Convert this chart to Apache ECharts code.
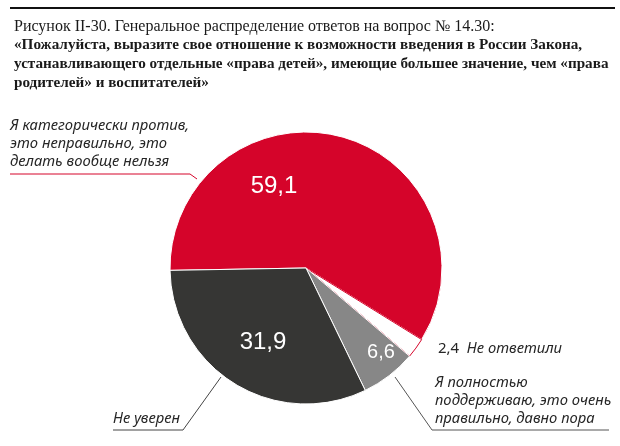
<!DOCTYPE html>
<html>
<head>
<meta charset="utf-8">
<script src="https://cdn.jsdelivr.net/npm/echarts@6/dist/echarts.min.js"></script>
<style>
  html, body { margin: 0; padding: 0; background: #fff; }
  #main { width: 620px; height: 446px; }
</style>
</head>
<body>
<div id="main"></div>
<script>
// ответы и их доли, %
const categories = [
  'Я категорически против,\nэто неправильно, это\nделать вообще нельзя',
  'Не ответили',
  'Я полностью\nподдерживаю, это очень\nправильно, давно пора',
  'Не уверен'
]
const values = [59.1, 2.4, 6.6, 31.9]
const colors = ['#d5042a', '#ffffff', '#878787', '#363634']
const titleLines = [
  'Рисунок II-30. Генеральное распределение ответов на вопрос № 14.30:',
  '«Пожалуйста, выразите свое отношение к возможности введения в России Закона,',
  'устанавливающего отдельные «права детей», имеющие большее значение, чем «права',
  'родителей» и воспитателей»'
]

// положение подписей (центры чисел внутри секторов)
const valuePos = [[274, 186], null, [381, 352], [263, 342]]
// подписи снаружи: точка привязки текста и выноска
const namePos = [
  { x: 10, y: 171, line: [[197, 179], [190, 174], [10, 174]], color: '#d5042a' },
  { x: 438, y: 358, line: null, color: '#333' },
  { x: 435, y: 428, line: [[395, 377], [432, 430], [609, 430]], color: '#555' },
  { x: 113, y: 428, line: [[221, 377], [183, 430], [113, 430]], color: '#444' }
]

const fmt = v => String(v).replace('.', ',')

const chart = echarts.init(document.getElementById('main'))

const baseData = values.map((v, i) => ({ name: categories[i], value: v }))

const option = {
  animation: false,
  title: {
    left: 9,
    top: 12,
    text: '{a|' + titleLines[0] + '}\n' + titleLines.slice(1).map(t => '{b|' + t + '}').join('\n'),
    textStyle: {
      rich: {
        a: { fontFamily: 'Liberation Serif', fontSize: 16, fontWeight: 'normal', color: '#1a1a1a', lineHeight: 19 },
        b: { fontFamily: 'Liberation Serif', fontSize: 15.2, fontWeight: 'bold', color: '#1a1a1a', lineHeight: 19 }
      }
    }
  },
  graphic: [
    { type: 'line', shape: { x1: 10, y1: 8, x2: 615, y2: 8 }, style: { stroke: '#111', lineWidth: 2 } }
  ],
  series: [
    {
      type: 'pie',
      center: [306, 268],
      radius: 136,
      startAngle: 181,
      clockwise: true,
      silent: true,
      data: baseData.map((d, i) => ({
        name: d.name,
        value: d.value,
        itemStyle: {
          color: colors[i],
          borderColor: i === 1 ? '#d5042a' : '#ffffff',
          borderWidth: 1
        },
        label: { show: valuePos[i] !== null, fontSize: i === 2 ? 20 : 24 }
      })),
      label: {
        position: 'inside',
        color: '#fff',
        fontFamily: 'Liberation Sans',
        formatter: p => fmt(p.value)
      },
      labelLayout: p => {
        const pos = valuePos[p.dataIndex]
        if (!pos) return {}
        return { x: pos[0], y: pos[1], align: 'center', verticalAlign: 'middle' }
      }
    },
    {
      type: 'pie',
      center: [306, 268],
      radius: 136,
      startAngle: 181,
      silent: true,
      z: 3,
      data: baseData.map((d, i) => ({
        name: d.name,
        value: d.value,
        itemStyle: { color: 'transparent', borderWidth: 0 },
        labelLine: { show: namePos[i].line !== null, lineStyle: { color: namePos[i].color, width: 1 } }
      })),
      label: {
        position: 'outside',
        color: '#262626',
        fontFamily: 'Noto Sans',
        fontStyle: 'italic',
        fontSize: 14.8,
        lineHeight: 18,
        align: 'left',
        formatter: p => p.dataIndex === 1 ? '{n|' + fmt(p.value) + '}  ' + p.name : p.name,
        rich: {
          n: { fontStyle: 'normal', fontFamily: 'Noto Sans', fontSize: 15, color: '#262626' }
        }
      },
      labelLine: { smooth: false },
      labelLayout: p => {
        const np = namePos[p.dataIndex]
        const res = { x: np.x, y: np.y, align: 'left', verticalAlign: 'bottom' }
        if (np.line) res.labelLinePoints = np.line
        return res
      }
    }
  ]
}

chart.setOption(option)
</script>
</body>
</html>
